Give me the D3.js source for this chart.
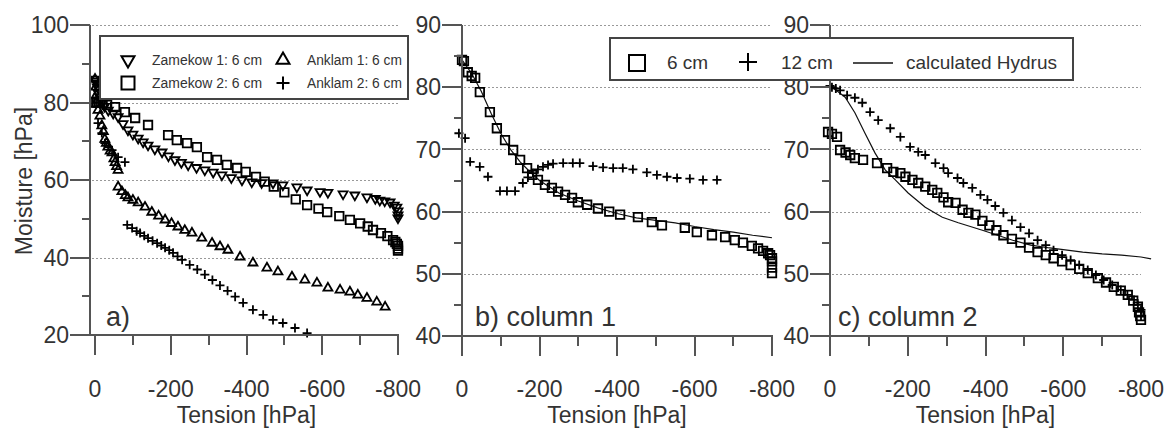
<!DOCTYPE html>
<html>
<head>
<meta charset="utf-8">
<script src="https://cdn.jsdelivr.net/npm/d3@7"></script>
<style>
  body { margin: 0; background: #fff; }
  svg { display: block; font-family: Arial, "Liberation Sans", sans-serif; }
  .axis line, .axis path { stroke: #555; stroke-width: 2; fill: none; shape-rendering: crispEdges; }
  .grid { stroke: #999; stroke-width: 1; stroke-dasharray: 1.5 2.5; shape-rendering: crispEdges; }
  .lbl { fill: #333; }
  .mark { fill: none; stroke: #000; stroke-width: 1.8; }
</style>
</head>
<body>
<svg id="chart" width="1168" height="428"></svg>
<script>
// ---- panel a) ----
var zam1T = [0,-2,-4,-6,-8,-12,-18,-25,-35,-48,-61,-74,-87,-100,-114,-127,-140,-158,-177,-194,-211,-228,-246,-268,-290,-312,-335,-360,-388,-414,-440,-470,-496,-533,-560,-594,-615,-655,-686,-718,-740,-752,-765,-779,-790,-797,-800,-800,-800];
var zam1M = [86,85.5,85,84,82.5,81.5,80,79,78,77.2,76.3,74.5,72.9,71.8,70.8,69.8,69,68,67.2,66.2,65.2,64.5,63.9,63.2,62.6,62,61.3,60.6,60,59.5,59.3,59.2,58.7,58.2,57.4,57,56.8,56.4,56.1,55.6,55.2,54.8,54.6,54.3,53.5,53,52,51,50.2];

var zam2T = [0,-4,-9,-14,-20,-32,-53,-79,-106,-140,-193,-216,-243,-269,-296,-322,-348,-375,-398,-425,-448,-472,-500,-530,-560,-590,-613,-645,-673,-700,-720,-734,-755,-772,-787,-793,-797,-800,-800,-800];
var zam2M = [80,80,80,80,79.9,79.4,78.8,77.5,76,74.2,71.6,70.3,69.5,68.5,65.9,65.2,63.9,63.1,62.1,60.8,59.6,58.3,56.8,55,53.5,52.6,51.7,50.7,49.7,48.8,48,47.1,46.3,45.5,44.5,44,43.5,43,42.3,41.8];

var ank1T = [0,-2,-4,-6,-8,-13,-18,-22,-26,-30,-34,-40,-45,-50,-53,-57,-61,-61,-71,-80,-87,-100,-114,-132,-150,-168,-185,-202,-219,-237,-256,-282,-309,-330,-351,-383,-417,-454,-483,-520,-554,-586,-615,-647,-673,-694,-718,-744,-766];
var ank1M = [86,84,82,80.6,78,76.5,74,72.5,70.5,69.5,68.5,67.5,67,65.5,64.5,63.5,62.5,58.2,57,56,55.4,54.8,54.1,53,51.7,50.7,49.7,48.8,47.9,47,46.3,45,43.7,42.8,41.9,40.1,38.6,37.3,36.3,35,34.2,33.4,32.1,31.6,31.1,30.3,29.5,28.5,27.2];

var ank2T = [-8,-18,-26,-35,-45,-61,-79,-85,-98,-110,-119,-130,-140,-152,-164,-175,-185,-196,-206,-218,-230,-250,-270,-290,-310,-330,-350,-370,-391,-417,-444,-470,-496,-528,-560];
var ank2M = [74.7,72.1,69.5,68.5,67.7,65.9,64.6,48.4,47.6,46.8,46.3,45.6,45,44.3,43.7,43.1,42.5,41.9,41.2,40.3,39.4,38.1,36.9,35.6,34.2,32.8,31.4,29.9,28.3,26.5,25.2,23.9,23.1,21.8,20.5];

// ---- panel b) column 1 ----
var col1T6 = [0,-5,-15,-25,-34,-46,-72,-90,-111,-132,-150,-168,-181,-196,-214,-232,-248,-266,-284,-299,-323,-351,-380,-408,-454,-490,-516,-575,-606,-645,-679,-704,-725,-748,-764,-777,-790,-795,-800,-800,-800,-800];
var col1M6 = [84.4,84.2,82.4,81.8,81.5,79.2,76,73.4,71.5,69.9,68.3,67,65.9,65.1,64.3,63.8,63.2,62.7,62.2,61.5,61.1,60.5,60,59.5,59.1,58.3,57.8,57.4,56.7,56.2,55.9,55.4,55,54.5,54.1,53.7,53.3,53,52.5,52,51,50.1];
var col1T12 = [8,-8,-21,-46,-67,-98,-116,-137,-157,-170,-183,-196,-209,-222,-235,-261,-286,-304,-338,-364,-390,-415,-441,-477,-503,-529,-555,-588,-622,-658];
var col1M12 = [72.6,71.8,68,67.2,65.6,63.3,63.3,63.3,64.6,65.5,66.2,66.8,67.2,67.5,67.7,67.8,67.8,67.8,67.3,67.1,67,67,66.8,66.3,65.9,65.6,65.4,65.3,65.1,65.1];
var col1HydT = [0,-25,-50,-75,-100,-125,-150,-175,-200,-250,-300,-350,-400,-450,-500,-550,-600,-650,-700,-750,-800];
var col1HydM = [84.4,82.2,79.3,75.8,72.6,70,68,66.4,65,63,61.7,60.6,59.7,59,58.6,58.2,57.6,57.1,56.7,56.2,55.8];

// ---- panel c) column 2 ----
var col2T6 = [5,-5,-18,-26,-40,-52,-64,-85,-121,-147,-163,-181,-194,-212,-227,-245,-263,-276,-292,-304,-323,-341,-356,-374,-392,-410,-428,-446,-468,-490,-512,-534,-555,-575,-597,-619,-641,-663,-689,-710,-730,-748,-766,-780,-792,-795,-798,-800];
var col2M6 = [72.8,72.5,72,69.9,69.5,69.1,68.6,68.3,67.8,67,66.4,66.2,65.6,65.1,64.6,64,63.5,63,62.3,61.5,61.4,60.3,59.8,59.5,58.5,57.8,57,56.2,55.6,55,54.2,53.5,53,52.5,52,51.4,50.8,50.1,49.3,48.6,47.9,47.3,46.6,45.7,44.7,43.8,43.2,42.6];
var col2T12 = [0,-5,-15,-26,-44,-64,-83,-103,-124,-155,-181,-206,-227,-245,-271,-292,-304,-328,-343,-366,-387,-405,-425,-446,-468,-490,-512,-534,-555,-575,-597,-619,-641,-663,-684,-704,-726,-748,-765,-782,-792,-800,-800];
var col2M12 = [80.2,80,79.8,79.5,78.7,78.3,77.5,76,74.7,73.4,72,70.4,69.6,69.1,67.8,67,66.2,65.4,64.6,63.8,62.7,61.9,60.9,59.8,58.6,57.5,56.5,55.4,54.6,53.8,53,52.2,51.4,50.6,49.8,49,48.2,47.4,46.6,45.8,45,44.2,43.2];
var col2HydT = [0,-20,-39,-64,-90,-116,-142,-168,-201,-245,-289,-330,-392,-431,-470,-516,-560,-600,-650,-700,-750,-800,-826];
var col2HydM = [80.2,79.3,78.4,75.9,72.6,69.4,66.7,65.1,63,60.7,59.1,58.2,57,56.2,55.4,54.6,54.2,53.9,53.5,53.2,53,52.7,52.4];

var xTicks = [0,-200,-400,-600,-800];
var xMinor = [-100,-300,-500,-700];

// marker shapes (hollow)
function shape(kind, s) {
	var h = s * 0.866;
	if (kind == "square") return "M" + (-s/2) + "," + (-s/2) + "h" + s + "v" + s + "h" + (-s) + "Z";
	if (kind == "up") return "M0," + (-h*2/3) + "L" + (s/2) + "," + (h/3) + "L" + (-s/2) + "," + (h/3) + "Z";
	if (kind == "down") return "M0," + (h*2/3) + "L" + (s/2) + "," + (-h/3) + "L" + (-s/2) + "," + (-h/3) + "Z";
	return "M" + (-s/2) + ",0H" + (s/2) + "M0," + (-s/2) + "V" + (s/2);
}

function zip(t, m) {
	return t.map(function(v, i) { return [v, m[i]]; });
}

var svg = d3.select("#chart");

var panels = [
	{ axisX: 90, x0: 95, x1: 398, top: 25, bottom: 335, y: [20, 100], yMajor: [20,40,60,80,100], yMinor: [30,50,70,90],
	  tag: "a)", tagX: 106,
	  series: [
		{ data: zip(zam1T, zam1M), kind: "down", size: 9 },
		{ data: zip(zam2T, zam2M), kind: "square", size: 8.5 },
		{ data: zip(ank1T, ank1M), kind: "up", size: 9 },
		{ data: zip(ank2T, ank2M), kind: "plus", size: 9 }
	  ] },
	{ axisX: 462, x0: 462, x1: 772, top: 25, bottom: 336, y: [40, 90], yMajor: [40,50,60,70,80,90], yMinor: [45,55,65,75,85],
	  tag: "b) column 1", tagX: 475,
	  line: zip(col1HydT, col1HydM),
	  series: [
		{ data: zip(col1T6, col1M6), kind: "square", size: 8.5 },
		{ data: zip(col1T12, col1M12), kind: "plus", size: 9 }
	  ] },
	{ axisX: 830, x0: 830, x1: 1141, top: 25, bottom: 336, y: [40, 90], yMajor: [40,50,60,70,80,90], yMinor: [45,55,65,75,85],
	  tag: "c) column 2", tagX: 838,
	  line: zip(col2HydT, col2HydM),
	  series: [
		{ data: zip(col2T6, col2M6), kind: "square", size: 8.5 },
		{ data: zip(col2T12, col2M12), kind: "plus", size: 9 }
	  ] }
];

panels.forEach(function(p) {
	var x = d3.scaleLinear().domain([0, -800]).range([p.x0, p.x1]);
	var y = d3.scaleLinear().domain(p.y).range([p.bottom, p.top]);
	var g = svg.append("g");

	// dotted grid on the major values (not on the bottom one)
	g.selectAll(".grid").data(p.yMajor.slice(1)).enter().append("line")
		.attr("class", "grid")
		.attr("x1", p.axisX + 2).attr("x2", p.x1)
		.attr("y1", function(d) { return Math.round(y(d)) + 0.5; })
		.attr("y2", function(d) { return Math.round(y(d)) + 0.5; });

	// hydrus line
	if (p.line) {
		g.append("path")
			.datum(p.line)
			.attr("fill", "none").attr("stroke", "#111").attr("stroke-width", 1.2)
			.attr("d", d3.line().x(function(d) { return x(d[0]); }).y(function(d) { return y(d[1]); }));
	}

	// markers
	p.series.forEach(function(s) {
		g.append("g").selectAll("path").data(s.data).enter().append("path")
			.attr("class", "mark")
			.attr("transform", function(d) { return "translate(" + x(d[0]) + "," + y(d[1]) + ")"; })
			.attr("d", shape(s.kind, s.size));
	});

	// axes
	var ax = g.append("g").attr("class", "axis");
	ax.append("line").attr("x1", p.axisX).attr("x2", p.axisX).attr("y1", p.top).attr("y2", p.bottom);
	ax.append("line").attr("x1", p.axisX).attr("x2", p.x1 + 1).attr("y1", p.bottom).attr("y2", p.bottom);
	ax.selectAll(".ymaj").data(p.yMajor).enter().append("line")
		.attr("x1", p.axisX - 20).attr("x2", p.axisX)
		.attr("y1", function(d) { return y(d); }).attr("y2", function(d) { return y(d); });
	ax.selectAll(".ymin").data(p.yMinor).enter().append("line")
		.attr("x1", p.axisX - 8).attr("x2", p.axisX)
		.attr("y1", function(d) { return y(d); }).attr("y2", function(d) { return y(d); });
	ax.selectAll(".xmaj").data(xTicks).enter().append("line")
		.attr("x1", function(d) { return x(d); }).attr("x2", function(d) { return x(d); })
		.attr("y1", p.bottom).attr("y2", p.bottom + 20);
	ax.selectAll(".xmin").data(xMinor).enter().append("line")
		.attr("x1", function(d) { return x(d); }).attr("x2", function(d) { return x(d); })
		.attr("y1", p.bottom).attr("y2", p.bottom + 10);

	// tick labels
	g.selectAll(".ylab").data(p.yMajor).enter().append("text")
		.attr("class", "lbl")
		.attr("x", p.axisX - 21).attr("y", function(d) { return y(d); })
		.attr("dy", "0.36em").attr("text-anchor", "end")
		.style("font-size", "23px")
		.text(function(d) { return d; });
	g.selectAll(".xlab").data(xTicks).enter().append("text")
		.attr("class", "lbl")
		.attr("x", function(d) { return x(d); }).attr("y", 397)
		.attr("text-anchor", "middle")
		.style("font-size", "23px")
		.text(function(d) { return d; });

	g.append("text").attr("class", "lbl")
		.attr("x", (p.x0 + p.x1) / 2).attr("y", 423)
		.attr("text-anchor", "middle").style("font-size", "23px")
		.text("Tension [hPa]");

	g.append("text").attr("class", "lbl")
		.attr("x", p.tagX).attr("y", 326)
		.style("font-size", "27px")
		.text(p.tag);
});

svg.append("text").attr("class", "lbl")
	.attr("transform", "translate(32,181) rotate(-90)")
	.attr("text-anchor", "middle").style("font-size", "23px")
	.text("Moisture [hPa]");

// legend of panel a
var legA = svg.append("g");
legA.append("rect").attr("x", 100).attr("y", 36).attr("width", 308).attr("height", 63)
	.attr("fill", "#fff").attr("stroke", "#444").attr("stroke-width", 2);
var legAItems = [
	{ kind: "down", label: "Zamekow 1: 6 cm", x: 128, y: 60 },
	{ kind: "up", label: "Anklam 1: 6 cm", x: 283, y: 60 },
	{ kind: "square", label: "Zamekow 2: 6 cm", x: 128, y: 83 },
	{ kind: "plus", label: "Anklam 2: 6 cm", x: 283, y: 83 }
];
legAItems.forEach(function(it) {
	legA.append("path").attr("class", "mark")
		.attr("transform", "translate(" + it.x + "," + it.y + ")")
		.attr("d", shape(it.kind, 13))
		.style("stroke-width", 2);
	legA.append("text").attr("class", "lbl")
		.attr("x", it.x + 24).attr("y", it.y + 5)
		.style("font-size", "14px")
		.attr("textLength", it.label.indexOf("Zamekow") == 0 ? 110 : 95)
		.attr("lengthAdjust", "spacingAndGlyphs")
		.text(it.label);
});

// legend shared by b) and c)
var legB = svg.append("g");
legB.append("rect").attr("x", 610).attr("y", 38).attr("width", 463).attr("height", 42)
	.attr("fill", "#fff").attr("stroke", "#444").attr("stroke-width", 2);
legB.append("path").attr("class", "mark").attr("transform", "translate(637,63)")
	.attr("d", shape("square", 16)).style("stroke-width", 2);
legB.append("text").attr("class", "lbl").attr("x", 667).attr("y", 69).style("font-size", "19px").text("6 cm");
legB.append("path").attr("class", "mark").attr("transform", "translate(748,62)")
	.attr("d", shape("plus", 18)).style("stroke-width", 2);
legB.append("text").attr("class", "lbl").attr("x", 781).attr("y", 69).style("font-size", "19px").text("12 cm");
legB.append("line").attr("x1", 853).attr("x2", 893).attr("y1", 63).attr("y2", 63)
	.attr("stroke", "#111").attr("stroke-width", 1.5);
legB.append("text").attr("class", "lbl").attr("x", 906).attr("y", 69).style("font-size", "19px").text("calculated Hydrus");
</script>
</body>
</html>
